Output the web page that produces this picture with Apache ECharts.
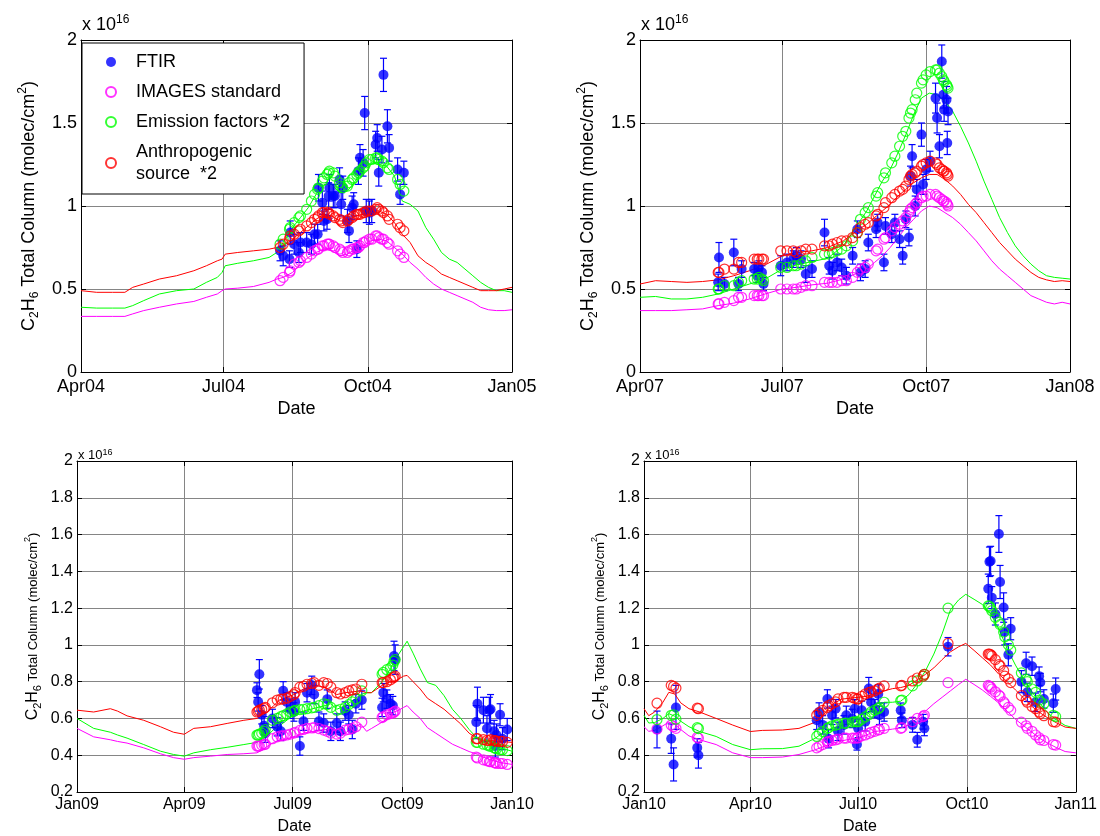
<!DOCTYPE html>
<html><head><meta charset="utf-8">
<script src="https://cdn.jsdelivr.net/npm/echarts@6/dist/echarts.min.js"></script>
<style>html,body{margin:0;padding:0;background:#fff}#c{width:1100px;height:836px}</style>
</head><body><div id="c"></div>
<script>
// ---------------- Panel 1 : Apr 2004 - Jan 2005 (days since 1 Apr 2004) ----------------
const p1TickDays = [0, 91, 183, 275];
const p1TickLabels = ['Apr04', 'Jul04', 'Oct04', 'Jan05'];
const p1Days = [127,129,133,133.5,136,139,140,144,147,149, 151,151.5,154,155,157,158,158.5,161,162,165, 166,167,170,171,173,174,176,177,178,180, 181,182,184,185.5,188,189,190,192,193,195.5, 196.6,202,203.6,206];
const p1Ftir = [0.73,0.70,0.68,0.84,0.77,0.72,0.78,0.78,0.77,0.83, 0.83,1.11,1.02,0.91,0.92,1.06,1.11,1.06,1.06,1.16, 1.01,1.11,0.91,0.85,0.99,1.01,0.74,1.21,1.29,1.26, 1.56,0.97,0.96,0.97,1.37,1.41,1.20,1.34,1.79,1.48, 1.35,1.22,1.07,1.20];
const p1Err = [0.06,0.06,0.05,0.07,0.06,0.06,0.06,0.06,0.06,0.06, 0.06,0.08,0.07,0.06,0.06,0.08,0.08,0.07,0.07,0.07, 0.07,0.07,0.07,0.07,0.07,0.07,0.05,0.08,0.08,0.08, 0.1,0.07,0.07,0.07,0.08,0.08,0.08,0.08,0.1,0.1, 0.08,0.07,0.06,0.07];
const p1Images = [0.55,0.57,0.60,0.61,0.65,0.66,0.67,0.69,0.71,0.73, 0.74,0.74,0.76,0.76,0.77,0.77,0.77,0.76,0.75,0.74, 0.73,0.72,0.72,0.73,0.74,0.74,0.75,0.75,0.76,0.78, 0.78,0.79,0.80,0.80,0.82,0.82,0.81,0.80,0.80,0.78, 0.77,0.73,0.71,0.69];
const p1Emis = [0.77,0.80,0.86,0.87,0.90,0.93,0.94,0.98,1.03,1.07, 1.10,1.11,1.15,1.17,1.19,1.20,1.21,1.20,1.18,1.14, 1.12,1.11,1.12,1.14,1.16,1.17,1.19,1.20,1.21,1.23, 1.24,1.26,1.28,1.28,1.29,1.29,1.28,1.27,1.26,1.23, 1.22,1.16,1.13,1.09];
const p1Anth = [0.75,0.77,0.80,0.82,0.83,0.85,0.86,0.88,0.90,0.92, 0.93,0.94,0.96,0.96,0.96,0.96,0.95,0.94,0.93,0.92, 0.91,0.90,0.91,0.92,0.93,0.94,0.95,0.95,0.95,0.96, 0.96,0.97,0.97,0.97,0.98,0.99,0.98,0.97,0.96,0.94, 0.92,0.89,0.87,0.85];
const p1LineDays = [0,10,20,28,33,40,50,61,72,80, 87,90,92,100,110,120,125,129,135,140, 145,150,155,160,165,170,175,180,185,190, 195,200,205,210,215,220,225,230,235,240, 245,250,255,260,265,270,275];
const p1LineImages = [0.335,0.335,0.335,0.335,0.35,0.37,0.39,0.41,0.425,0.45, 0.47,0.49,0.50,0.505,0.515,0.54,0.56,0.57,0.60,0.65, 0.69,0.72,0.74,0.73,0.70,0.71,0.74,0.76,0.79,0.80, 0.79,0.75,0.71,0.66,0.62,0.57,0.53,0.50,0.48,0.46, 0.44,0.42,0.39,0.375,0.37,0.37,0.375];
const p1LineEmis = [0.39,0.385,0.385,0.385,0.40,0.43,0.47,0.49,0.50,0.54, 0.57,0.60,0.64,0.655,0.67,0.69,0.72,0.78,0.87,0.93, 0.99,1.07,1.13,1.13,1.08,1.09,1.15,1.22,1.26,1.25, 1.24,1.18,1.03,1.01,0.97,0.87,0.80,0.72,0.68,0.66, 0.62,0.58,0.54,0.51,0.49,0.49,0.48];
const p1LineAnth = [0.49,0.48,0.48,0.48,0.51,0.53,0.56,0.58,0.61,0.64, 0.67,0.68,0.71,0.72,0.73,0.74,0.75,0.76,0.80,0.84, 0.88,0.92,0.95,0.94,0.91,0.91,0.94,0.95,0.97,0.97, 0.95,0.90,0.83,0.78,0.70,0.66,0.63,0.59,0.57,0.55, 0.53,0.51,0.49,0.49,0.49,0.50,0.51];

// ---------------- Panel 2 : Apr 2007 - Jan 2008 (days since 1 Apr 2007) ----------------
const p2TickDays = [0, 91, 183, 275];
const p2TickLabels = ['Apr07', 'Jul07', 'Oct07', 'Jan08'];
const p2Days = [50,50.5,54,60,63,65,73,75,76,78, 79,90,94,98,100,103,106,110,118,121, 123,126,129,132,136,139,141,144,146,151, 152,156,157,161,163,166,168,170,172,173, 174,176,177,180,181,183,185.5,189,190,191.5, 193,194,194.5,196,196.5,197];
const p2Ftir = [0.54,0.69,0.53,0.72,0.53,0.62,0.62,0.58,0.63,0.60, 0.53,0.64,0.66,0.68,0.70,0.68,0.59,0.62,0.84,0.64, 0.61,0.66,0.63,0.58,0.70,0.86,0.60,0.62,0.78,0.86, 0.90,0.66,0.88,0.83,0.90,0.80,0.70,0.92,0.81,1.18, 1.30,1.00,1.10,1.43,1.13,1.22,1.27,1.65,1.53,1.36, 1.87,1.67,1.58,1.64,1.38,1.57];
const p2Err = [0.05,0.09,0.04,0.08,0.04,0.05,0.04,0.04,0.04,0.04, 0.04,0.06,0.05,0.05,0.05,0.05,0.05,0.05,0.08,0.05, 0.05,0.05,0.05,0.05,0.05,0.05,0.05,0.05,0.05,0.05, 0.05,0.05,0.05,0.05,0.05,0.05,0.05,0.05,0.05,0.06, 0.07,0.06,0.06,0.07,0.06,0.06,0.06,0.09,0.09,0.07, 0.1,0.08,0.07,0.08,0.07,0.08];
const p2Images = [0.41,0.41,0.42,0.43,0.45,0.45,0.46,0.46,0.46,0.46, 0.46,0.50,0.50,0.50,0.50,0.51,0.52,0.52,0.54,0.54, 0.54,0.54,0.55,0.55,0.57,0.60,0.62,0.63,0.65,0.73, 0.74,0.80,0.81,0.85,0.87,0.89,0.91,0.93,0.96,0.98, 0.99,1.01,1.02,1.05,1.06,1.06,1.07,1.07,1.06,1.05, 1.04,1.03,1.03,1.02,1.01,1.00];
const p2Emis = [0.50,0.50,0.52,0.52,0.54,0.55,0.56,0.56,0.57,0.56, 0.55,0.63,0.63,0.64,0.64,0.65,0.67,0.69,0.71,0.71, 0.72,0.73,0.74,0.76,0.79,0.84,0.92,0.96,0.99,1.06, 1.08,1.17,1.20,1.26,1.30,1.36,1.42,1.45,1.53,1.56, 1.58,1.64,1.68,1.74,1.76,1.79,1.81,1.82,1.82,1.80, 1.78,1.76,1.75,1.73,1.72,1.71];
const p2Anth = [0.60,0.60,0.62,0.62,0.66,0.66,0.68,0.68,0.68,0.68, 0.68,0.73,0.73,0.73,0.72,0.73,0.74,0.74,0.76,0.76, 0.77,0.78,0.79,0.79,0.81,0.84,0.87,0.89,0.90,0.94, 0.95,0.99,1.02,1.05,1.07,1.09,1.10,1.12,1.16,1.18, 1.19,1.20,1.21,1.24,1.25,1.26,1.27,1.26,1.25,1.23, 1.22,1.21,1.21,1.20,1.19,1.18];
const p2LineDays = [0,10,20,30,40,50,60,70,80,91, 100,110,120,130,140,145,150,155,160,165, 170,175,180,185,190,195,200,205,210,215, 220,225,230,235,240,245,250,255,260,265, 270,275];
const p2LineImages = [0.37,0.37,0.37,0.375,0.38,0.40,0.415,0.44,0.47,0.50, 0.51,0.525,0.535,0.56,0.60,0.62,0.66,0.70,0.75,0.81, 0.87,0.92,0.97,1.00,0.99,0.96,0.93,0.89,0.84,0.79, 0.73,0.67,0.62,0.58,0.54,0.50,0.46,0.44,0.42,0.41, 0.42,0.41];
const p2LineEmis = [0.45,0.455,0.44,0.44,0.45,0.47,0.50,0.53,0.56,0.62, 0.645,0.665,0.685,0.76,0.90,0.97,1.06,1.15,1.22,1.32, 1.43,1.55,1.65,1.68,1.67,1.63,1.57,1.48,1.38,1.27, 1.15,1.04,0.93,0.84,0.76,0.70,0.65,0.61,0.58,0.57, 0.565,0.56];
const p2LineAnth = [0.53,0.55,0.545,0.54,0.545,0.555,0.58,0.61,0.645,0.70, 0.72,0.73,0.75,0.79,0.86,0.89,0.93,0.97,1.01,1.06, 1.10,1.14,1.17,1.19,1.19,1.16,1.12,1.07,1.01,0.96, 0.90,0.84,0.78,0.73,0.68,0.64,0.60,0.57,0.555,0.545, 0.55,0.545];

// ---------------- Panel 3 : Jan 2009 - Jan 2010 (days since 1 Jan 2009) ----------------
const p3TickDays = [0, 90, 181, 273, 365];
const p3TickLabels = ['Jan09', 'Apr09', 'Jul09', 'Oct09', 'Jan10'];
const p3Days = [151,152,153,155,157,158, 164,168,171,173,176,179, 182,183,187,190,193,197, 199,203,207,210,213,218, 221,225,228,231,234,239, 256,257,260,263,265,266,267, 335,336,341,344,346,347, 350,351,352,355,357,361];
const p3Ftir = [0.754,0.69,0.84,0.62,0.56,0.52, 0.60,0.555,0.53,0.75,0.69,0.65, 0.635,0.69,0.45,0.585,0.74,0.78, 0.73,0.585,0.575,0.705,0.53,0.575, 0.53,0.64,0.62,0.54,0.68,0.70, 0.66,0.74,0.705,0.68,0.67,0.94,0.92, 0.58,0.68,0.645,0.545,0.645,0.65, 0.53,0.45,0.51,0.62,0.49,0.54];
const p3Err = [0.04,0.05,0.08,0.05,0.05,0.05, 0.05,0.05,0.05,0.05,0.05,0.05, 0.05,0.05,0.05,0.05,0.05,0.05, 0.05,0.05,0.05,0.05,0.05,0.05, 0.05,0.05,0.05,0.05,0.05,0.05, 0.05,0.05,0.05,0.05,0.05,0.08,0.08, 0.09,0.09,0.07,0.07,0.07,0.08, 0.06,0.06,0.06,0.06,0.06,0.06];
const p3Images = [0.45,0.45,0.45,0.455,0.458,0.46, 0.49,0.50,0.505,0.505,0.51,0.515, 0.52,0.525,0.535,0.54,0.546,0.548, 0.55,0.545,0.537,0.53,0.52,0.515, 0.52,0.537,0.54,0.545,0.555,0.58, 0.605,0.61,0.62,0.626,0.63,0.635,0.64, 0.39,0.385,0.375,0.37,0.365,0.365, 0.36,0.36,0.355,0.355,0.355,0.35];
const p3Emis = [0.51,0.51,0.515,0.52,0.53,0.54, 0.59,0.60,0.61,0.615,0.625,0.635, 0.64,0.644,0.648,0.65,0.653,0.658, 0.66,0.67,0.68,0.675,0.66,0.644, 0.65,0.66,0.675,0.69,0.706,0.75, 0.84,0.85,0.865,0.875,0.89,0.91,0.92, 0.47,0.47,0.46,0.455,0.45,0.45, 0.44,0.44,0.435,0.43,0.43,0.425];
const p3Anth = [0.635,0.64,0.645,0.65,0.655,0.66, 0.685,0.70,0.705,0.705,0.71,0.72, 0.73,0.74,0.77,0.775,0.786,0.79, 0.795,0.78,0.795,0.79,0.77,0.74, 0.733,0.74,0.75,0.755,0.76,0.786, 0.795,0.795,0.80,0.81,0.82,0.825,0.83, 0.49,0.49,0.485,0.48,0.48,0.485, 0.48,0.48,0.475,0.475,0.475,0.47];
const p3LineDays = [0,14,28,34,42,56,70,81,90,98, 112,126,140,151,156,159,165,170,182,190, 199,208,213,218,225,232,238,243,247,256, 263,266,270,274,277,282,288,294,301,308, 315,322,329,336,341,347,355,365];
const p3LineImages = [0.546,0.50,0.484,0.475,0.466,0.44,0.408,0.387,0.378,0.387, 0.395,0.404,0.408,0.413,0.43,0.445,0.47,0.48,0.50,0.52, 0.53,0.54,0.53,0.51,0.52,0.55,0.57,0.53,0.545,0.58, 0.61,0.635,0.645,0.66,0.67,0.635,0.60,0.55,0.52,0.49, 0.46,0.44,0.42,0.405,0.39,0.375,0.36,0.35];
const p3LineEmis = [0.60,0.546,0.525,0.51,0.493,0.458,0.422,0.404,0.395,0.413, 0.43,0.443,0.458,0.47,0.49,0.50,0.54,0.56,0.62,0.64, 0.655,0.67,0.68,0.65,0.67,0.70,0.73,0.74,0.74,0.80, 0.87,0.91,0.95,0.99,1.02,0.955,0.87,0.795,0.78,0.724, 0.65,0.60,0.54,0.49,0.47,0.46,0.44,0.422];
const p3LineAnth = [0.645,0.635,0.653,0.64,0.614,0.59,0.555,0.525,0.514,0.546, 0.555,0.573,0.59,0.60,0.615,0.63,0.67,0.70,0.73,0.76, 0.78,0.77,0.75,0.73,0.74,0.745,0.75,0.74,0.74,0.78, 0.80,0.80,0.815,0.83,0.834,0.80,0.76,0.71,0.68,0.65, 0.61,0.57,0.52,0.49,0.48,0.48,0.475,0.47];

// ---------------- Panel 4 : Jan 2010 - Jan 2011 (days since 1 Jan 2010) ----------------
const p4TickDays = [0, 90, 181, 273, 365];
const p4TickLabels = ['Jan10', 'Apr10', 'Jul10', 'Oct10', 'Jan11'];
const p4Days = [11,23,25,27,45,46, 146,148,151,155,156,159,162,164,169,171,176,178,180,181,184,187,190,192,195,198,199,203, 217,218,227,231,236,237, 257, 291,292,293,294,297,300,301,304,305,308,310, 319,323,324,328,331,334,335,338,346,348];
const p4Ftir = [0.54,0.49,0.35,0.66,0.44,0.40, 0.59,0.635,0.565,0.706,0.49,0.617,0.653,0.53,0.565,0.617,0.60,0.653,0.458,0.546,0.644,0.582,0.763,0.688,0.653,0.733,0.617,0.635, 0.644,0.59,0.565,0.484,0.582,0.546, 0.99, 1.305,1.452,1.456,1.257,1.168,1.603,1.342,1.203,1.07,0.946,1.088, 0.80,0.90,0.742,0.884,0.688,0.83,0.795,0.706,0.683,0.76];
const p4Err = [0.1,0.08,0.09,0.12,0.05,0.07, 0.05,0.05,0.05,0.05,0.05,0.05,0.05,0.05,0.05,0.05,0.05,0.05,0.03,0.05,0.05,0.05,0.06,0.05,0.05,0.05,0.05,0.05, 0.04,0.04,0.04,0.04,0.04,0.04, 0.05, 0.08,0.08,0.08,0.06,0.06,0.1,0.09,0.08,0.07,0.06,0.06, 0.06,0.06,0.05,0.05,0.05,0.05,0.05,0.05,0.05,0.06];
const p4Images = [0.543,0.564,0.555,0.546,0.497,0.493, 0.44,0.448,0.458,0.47,0.475,0.48,0.484,0.488,0.493,0.493,0.493,0.493,0.493,0.495,0.505,0.51,0.518,0.525,0.53,0.537,0.54,0.546, 0.546,0.55,0.582,0.60,0.61,0.617, 0.795, 0.78,0.775,0.77,0.76,0.745,0.727,0.72,0.69,0.68,0.66,0.644, 0.58,0.56,0.546,0.53,0.51,0.495,0.484,0.48,0.458,0.455];
const p4Emis = [0.594,0.617,0.62,0.596,0.55,0.545, 0.502,0.515,0.529,0.546,0.55,0.56,0.564,0.568,0.573,0.575,0.58,0.582,0.582,0.582,0.595,0.608,0.62,0.635,0.645,0.653,0.66,0.688, 0.697,0.70,0.777,0.804,0.83,0.84, 1.2, 1.212,1.21,1.20,1.186,1.15,1.124,1.11,1.07,1.044,1.00,0.972, 0.848,0.813,0.80,0.76,0.742,0.70,0.688,0.68,0.617,0.61];
const p4Anth = [0.683,0.78,0.774,0.765,0.656,0.653, 0.617,0.63,0.644,0.66,0.67,0.68,0.69,0.706,0.715,0.715,0.715,0.71,0.706,0.706,0.72,0.733,0.74,0.745,0.75,0.76,0.765,0.777, 0.777,0.78,0.804,0.82,0.83,0.84, 1.008, 0.95,0.95,0.946,0.94,0.92,0.893,0.885,0.86,0.83,0.815,0.795, 0.724,0.70,0.688,0.665,0.653,0.635,0.626,0.615,0.582,0.58];
const p4LineDays = [0,4,9,16,21,26,31,38,47,61, 75,90,100,117,131,145,153,160,167,174, 181,188,195,203,210,217,224,231,238,245, 252,259,266,272,279,286,293,300,307,314, 321,328,335,342,349,356,365];
const p4LineImages = [0.555,0.53,0.535,0.56,0.58,0.568,0.54,0.505,0.484,0.458, 0.413,0.387,0.387,0.39,0.404,0.43,0.45,0.466,0.478,0.487, 0.493,0.51,0.529,0.535,0.542,0.548,0.566,0.60,0.64,0.68, 0.715,0.75,0.785,0.813,0.785,0.755,0.72,0.683,0.64,0.595, 0.56,0.525,0.49,0.463,0.44,0.42,0.413];
const p4LineEmis = [0.617,0.575,0.578,0.60,0.626,0.612,0.585,0.555,0.529,0.502, 0.458,0.43,0.435,0.436,0.449,0.493,0.53,0.55,0.56,0.575, 0.585,0.62,0.655,0.688,0.688,0.694,0.73,0.79,0.86,0.95, 1.06,1.19,1.245,1.275,1.248,1.22,1.17,1.085,0.98,0.89, 0.813,0.745,0.68,0.625,0.59,0.562,0.546];
const p4LineAnth = [0.653,0.615,0.635,0.688,0.742,0.733,0.685,0.653,0.635,0.60, 0.564,0.529,0.535,0.537,0.546,0.58,0.63,0.68,0.705,0.71, 0.715,0.72,0.733,0.75,0.762,0.768,0.78,0.81,0.84,0.875, 0.92,0.962,0.99,1.008,0.97,0.93,0.89,0.84,0.80,0.755, 0.71,0.665,0.63,0.60,0.575,0.553,0.546];

// ---------------- names ----------------
const legendNames = ['FTIR', 'IMAGES standard', 'Emission factors *2', 'Anthropogenic\nsource  *2'];

// ---------------- rendering ----------------
const FONT = '"Liberation Sans", Arial, Helvetica, sans-serif';
const C_BLUE = '#0000ff', C_MAG = '#ff00ff', C_GRN = '#00ff00', C_RED = '#ff0000';
const GRID_C = '#858585';

const panels = [
  {grid:{left:81, top:40, width:431, height:332}, xMax:275, ticks:p1TickDays, labels:p1TickLabels,
   days:p1Days, ftir:p1Ftir, err:p1Err, mag:p1Images, grn:p1Emis, red:p1Anth,
   lDays:p1LineDays, lMag:p1LineImages, lGrn:p1LineEmis, lRed:p1LineAnth, yMin:0, yMax:2, yStep:0.5, big:true},
  {grid:{left:640, top:40, width:430, height:332}, xMax:275, ticks:p2TickDays, labels:p2TickLabels,
   days:p2Days, ftir:p2Ftir, err:p2Err, mag:p2Images, grn:p2Emis, red:p2Anth,
   lDays:p2LineDays, lMag:p2LineImages, lGrn:p2LineEmis, lRed:p2LineAnth, yMin:0, yMax:2, yStep:0.5, big:true},
  {grid:{left:77, top:461, width:435, height:337}, xMax:365, ticks:p3TickDays, labels:p3TickLabels,
   days:p3Days, ftir:p3Ftir, err:p3Err, mag:p3Images, grn:p3Emis, red:p3Anth,
   lDays:p3LineDays, lMag:p3LineImages, lGrn:p3LineEmis, lRed:p3LineAnth, yMin:0.2, yMax:2, yStep:0.2, big:false},
  {grid:{left:644, top:461, width:435, height:337}, xMax:365, ticks:p4TickDays, labels:p4TickLabels,
   days:p4Days, ftir:p4Ftir, err:p4Err, mag:p4Images, grn:p4Emis, red:p4Anth,
   lDays:p4LineDays, lMag:p4LineImages, lGrn:p4LineEmis, lRed:p4LineAnth, yMin:0.2, yMax:2, yStep:0.2, big:false}
];

const grids = [], xAxes = [], yAxes = [], series = [], graphics = [];

function errRender(params, api) {
  const x = api.value(0), lo = api.value(1), hi = api.value(2);
  const a = api.coord([x, hi]), b = api.coord([x, lo]);
  const w = 3.5, st = {stroke: C_BLUE, lineWidth: 1.2};
  return {type: 'group', children: [
    {type: 'line', shape: {x1: a[0], y1: a[1], x2: b[0], y2: b[1]}, style: st},
    {type: 'line', shape: {x1: a[0] - w, y1: a[1], x2: a[0] + w, y2: a[1]}, style: st},
    {type: 'line', shape: {x1: b[0] - w, y1: b[1], x2: b[0] + w, y2: b[1]}, style: st}
  ]};
}

panels.forEach((p, i) => {
  const fs = p.big ? 18 : 16;
  grids.push(Object.assign({containLabel: false}, p.grid));
  const xi = 2 * i, yi = 2 * i;
  const tickLabel = v => { const k = p.ticks.findIndex(t => Math.abs(t - v) < 0.01); return k >= 0 ? p.labels[k] : ''; };
  xAxes.push({
    gridIndex: i, type: 'value', min: 0, max: p.xMax, position: 'bottom',
    axisLine: {show: true, onZero: false, lineStyle: {color: '#000', width: 1}},
    axisTick: {show: true, inside: true, length: 5, customValues: p.ticks, lineStyle: {color: '#000'}},
    axisLabel: {show: true, customValues: p.ticks, formatter: tickLabel, margin: p.big ? 6 : 5,
      fontSize: fs, fontFamily: FONT, color: '#000', hideOverlap: false},
    splitLine: {show: true, lineStyle: {color: GRID_C, width: 1}},
    name: 'Date', nameLocation: 'middle', nameGap: p.big ? 28 : 27,
    nameTextStyle: {fontSize: fs, fontFamily: FONT, color: '#000'}
  });
  xAxes.push({
    gridIndex: i, type: 'value', min: 0, max: p.xMax, position: 'top',
    axisLine: {show: true, onZero: false, lineStyle: {color: '#000', width: 1}},
    axisTick: {show: true, inside: true, length: 5, customValues: p.ticks, lineStyle: {color: '#000'}},
    axisLabel: {show: false}, splitLine: {show: false}
  });
  const rich = p.big ? {
    t: {fontSize: 18, fontFamily: FONT, color: '#000', lineHeight: 24},
    s: {fontSize: 12, fontFamily: FONT, color: '#000', verticalAlign: 'bottom', lineHeight: 12},
    p: {fontSize: 12, fontFamily: FONT, color: '#000', verticalAlign: 'top', lineHeight: 12}
  } : {
    t: {fontSize: 16, fontFamily: FONT, color: '#000', lineHeight: 20},
    u: {fontSize: 13, fontFamily: FONT, color: '#000', lineHeight: 20},
    s: {fontSize: 11, fontFamily: FONT, color: '#000', verticalAlign: 'bottom', lineHeight: 11},
    p: {fontSize: 9, fontFamily: FONT, color: '#000', verticalAlign: 'top', lineHeight: 9}
  };
  const yName = p.big ? '{t|C}{s|2}{t|H}{s|6}{t| Total Column (molec/cm}{p|2}{t|)}'
                      : '{t|C}{s|2}{t|H}{s|6}{u| Total Column (molec/cm}{p|2}{u|)}';
  yAxes.push({
    gridIndex: i, type: 'value', min: p.yMin, max: p.yMax, interval: p.yStep, position: 'left',
    axisLine: {show: true, onZero: false, lineStyle: {color: '#000', width: 1}},
    axisTick: {show: true, inside: true, length: 5, lineStyle: {color: '#000'}},
    axisLabel: {show: true, margin: 4, fontSize: fs, fontFamily: FONT, color: '#000'},
    splitLine: {show: true, lineStyle: {color: GRID_C, width: 1}},
    name: yName, nameLocation: 'middle', nameRotate: 90, nameGap: p.big ? 40 : 34,
    nameTextStyle: {rich: rich}
  });
  yAxes.push({
    gridIndex: i, type: 'value', min: p.yMin, max: p.yMax, interval: p.yStep, position: 'right',
    axisLine: {show: true, onZero: false, lineStyle: {color: '#000', width: 1}},
    axisTick: {show: true, inside: true, length: 5, lineStyle: {color: '#000'}},
    axisLabel: {show: false}, splitLine: {show: false}
  });

  // x 10^16 multiplier
  graphics.push({
    type: 'text', left: p.grid.left + 1, top: p.big ? p.grid.top - 26 : p.grid.top - 13, z: 10,
    style: {text: '{a|x 10}{b|16}', rich: p.big ? {
        a: {fontSize: 18, fontFamily: FONT, fill: '#000', lineHeight: 22},
        b: {fontSize: 12, fontFamily: FONT, fill: '#000', verticalAlign: 'top', lineHeight: 12}
      } : {
        a: {fontSize: 13, fontFamily: FONT, fill: '#000', lineHeight: 15},
        b: {fontSize: 9, fontFamily: FONT, fill: '#000', verticalAlign: 'top', lineHeight: 9}
      }}
  });

  const sym = 10;
  series.push({
    type: 'custom', name: 'FTIR error', xAxisIndex: xi, yAxisIndex: yi, renderItem: errRender,
    encode: {x: 0, y: [1, 2]}, silent: true, z: 2,
    data: p.days.map((d, k) => [d, p.ftir[k] - p.err[k], p.ftir[k] + p.err[k]])
  });
  series.push({
    type: 'scatter', name: legendNames[0], xAxisIndex: xi, yAxisIndex: yi, symbol: 'circle', symbolSize: sym,
    itemStyle: {color: C_BLUE}, silent: true, z: 2,
    data: p.days.map((d, k) => [d, p.ftir[k]])
  });
  [[p.mag, C_MAG, 1], [p.grn, C_GRN, 2], [p.red, C_RED, 3]].forEach(([arr, col, n]) => {
    series.push({
      type: 'scatter', name: legendNames[n], xAxisIndex: xi, yAxisIndex: yi, symbol: 'circle', symbolSize: sym,
      itemStyle: {color: 'rgba(0,0,0,0)', borderColor: col, borderWidth: 1.2}, silent: true, z: 2,
      data: p.days.map((d, k) => [d, arr[k]])
    });
  });
  [[p.lMag, C_MAG, 'IMAGES standard (model)'], [p.lGrn, C_GRN, 'Emission factors *2 (model)'], [p.lRed, C_RED, 'Anthropogenic source *2 (model)']].forEach(([arr, col, nm]) => {
    series.push({
      type: 'line', name: nm, xAxisIndex: xi, yAxisIndex: yi, symbol: 'none', showSymbol: false,
      lineStyle: {color: col, width: 1}, itemStyle: {color: col}, silent: true, z: 2,
      data: p.lDays.map((d, k) => [d, arr[k]])
    });
  });
});

const chart = echarts.init(document.getElementById('c'), null, {renderer: 'canvas'});
chart.setOption({
  animation: false,
  backgroundColor: '#ffffff',
  grid: grids, xAxis: xAxes, yAxis: yAxes, series: series,
  legend: {
    data: legendNames, orient: 'vertical', left: 82, top: 43,
    itemWidth: 40, itemHeight: 10, itemGap: 8, padding: [8, 14, 9, 23],
    backgroundColor: '#fff', borderColor: '#000', borderWidth: 1, selectedMode: false,
    textStyle: {fontSize: 18, fontFamily: FONT, color: '#000', lineHeight: 22}, z: 10
  },
  graphic: graphics
});
</script></body></html>
